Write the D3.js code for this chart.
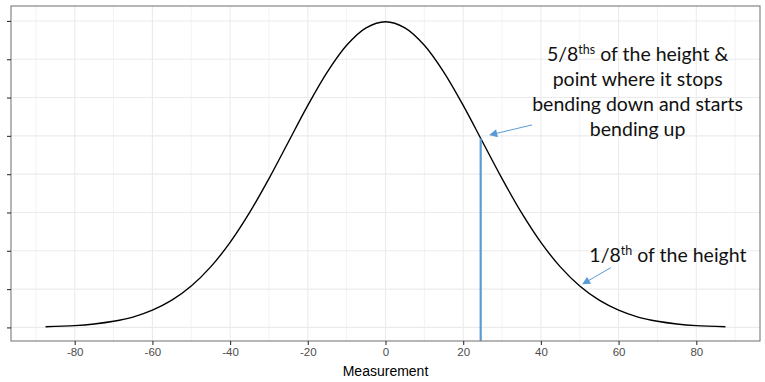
<!DOCTYPE html>
<html>
<head>
<meta charset="utf-8">
<script src="https://cdn.jsdelivr.net/npm/d3@7"></script>
<style>
  body { margin: 0; background: #fff; }
  .tick text { font-family: "Liberation Sans", Arial, sans-serif; }
  .note { font-family: Lato, "Open Sans", sans-serif; font-size: 19.5px; fill: #111; }
</style>
</head>
<body>
<svg width="765" height="382"></svg>
<script>
var xs = [-87.5, -80, -75, -70, -65, -60, -55, -50, -45, -40, -35, -30, -25, -20, -15, -10, -5,
          0, 5, 10, 15, 20, 25, 30, 35, 40, 45, 50, 55, 60, 65, 70, 75, 80, 87.5];
var ys = [0.000035, 0.000095, 0.00018, 0.00032, 0.00054, 0.00090, 0.00142, 0.00216, 0.00316, 0.00444, 0.00599, 0.00777, 0.00968, 0.01159, 0.01333, 0.01473, 0.01564,
          0.01596, 0.01564, 0.01473, 0.01333, 0.01159, 0.00968, 0.00777, 0.00599, 0.00444, 0.00316, 0.00216, 0.00142, 0.00090, 0.00054, 0.00032, 0.00018, 0.000095, 0.000035];

var xTicks = [-80, -60, -40, -20, 0, 20, 40, 60, 80];
var xMinor = [-90, -70, -50, -30, -10, 10, 30, 50, 70, 90];
var yTicks = [0, 0.002, 0.004, 0.006, 0.008, 0.010, 0.012, 0.014, 0.016];

// blue marker line
var vline = { x: 24.5, y: 0.00987 };

// annotation arrows [from, to] in data units
var arrows = [
  [[37.7, 0.01057], [26.9, 0.01005]],
  [[58.0, 0.00312], [50.8, 0.00227]]
];

var svg = d3.select("svg"),
    pLeft = 11, pRight = 760, pTop = 6, pBottom = 341;

var x = d3.scaleLinear().domain([-96.4, 96.4]).range([pLeft, pRight]);
var y = d3.scaleLinear().domain([-0.00071, 0.01678]).range([pBottom, pTop]);

// grid
var grid = svg.append("g");
grid.selectAll(".minor")
  .data(xMinor)
  .enter().append("line")
    .attr("x1", function(d) { return x(d); })
    .attr("x2", function(d) { return x(d); })
    .attr("y1", pTop).attr("y2", pBottom)
    .attr("stroke", "#f3f3f3").attr("stroke-width", 1);
grid.selectAll(".majx")
  .data(xTicks)
  .enter().append("line")
    .attr("x1", function(d) { return x(d); })
    .attr("x2", function(d) { return x(d); })
    .attr("y1", pTop).attr("y2", pBottom)
    .attr("stroke", "#ebebeb").attr("stroke-width", 1.1);
grid.selectAll(".majy")
  .data(yTicks)
  .enter().append("line")
    .attr("y1", function(d) { return y(d); })
    .attr("y2", function(d) { return y(d); })
    .attr("x1", pLeft).attr("x2", pRight)
    .attr("stroke", "#ebebeb").attr("stroke-width", 1.1);

// curve
var pts = xs.map(function(d, i) { return [d, ys[i]]; });
var line = d3.line()
    .x(function(d) { return x(d[0]); })
    .y(function(d) { return y(d[1]); })
    .curve(d3.curveCatmullRom);

svg.append("path")
    .datum(pts)
    .attr("fill", "none")
    .attr("stroke", "#000")
    .attr("stroke-width", 1.4)
    .attr("d", line);

// vertical blue line
svg.append("line")
    .attr("x1", x(vline.x)).attr("x2", x(vline.x))
    .attr("y1", y(vline.y)).attr("y2", pBottom)
    .attr("stroke", "#5b9bd5")
    .attr("stroke-width", 2.2);

// panel border
svg.append("rect")
    .attr("x", pLeft).attr("y", pTop)
    .attr("width", pRight - pLeft).attr("height", pBottom - pTop)
    .attr("fill", "none")
    .attr("stroke", "#7a7a7a")
    .attr("stroke-width", 1.1);

// axes
var xAxis = svg.append("g")
    .attr("transform", "translate(0," + pBottom + ")")
    .call(d3.axisBottom(x).tickValues(xTicks).tickSize(4).tickPadding(3)
      .tickFormat(function(d) { return String(d); }));
var yAxis = svg.append("g")
    .attr("transform", "translate(" + pLeft + ",0)")
    .call(d3.axisLeft(y).tickValues(yTicks).tickSize(4).tickFormat(""));

[xAxis, yAxis].forEach(function(a) {
  a.select(".domain").remove();
  a.selectAll(".tick line").attr("stroke", "#333").attr("stroke-width", 1.1);
});
xAxis.selectAll(".tick text")
    .attr("fill", "#4d4d4d")
    .style("font-size", "11.5px");

svg.append("text")
    .attr("x", (pLeft + pRight) / 2)
    .attr("y", 376)
    .attr("text-anchor", "middle")
    .style("font-family", "'Liberation Sans', Arial, sans-serif")
    .style("font-size", "14px")
    .attr("fill", "#000")
    .text("Measurement");

// arrows
var defs = svg.append("defs");
defs.append("marker")
    .attr("id", "head")
    .attr("viewBox", "0 0 10 10")
    .attr("refX", 9).attr("refY", 5)
    .attr("markerWidth", 10).attr("markerHeight", 8)
    .attr("markerUnits", "userSpaceOnUse")
    .attr("orient", "auto")
  .append("path")
    .attr("d", "M0,0 L10,5 L0,10 Z")
    .attr("fill", "#5b9bd5");

svg.selectAll(".arrow")
  .data(arrows)
  .enter().append("line")
    .attr("x1", function(d) { return x(d[0][0]); })
    .attr("y1", function(d) { return y(d[0][1]); })
    .attr("x2", function(d) { return x(d[1][0]); })
    .attr("y2", function(d) { return y(d[1][1]); })
    .attr("stroke", "#5b9bd5")
    .attr("stroke-width", 1)
    .attr("marker-end", "url(#head)");

// notes
var n1 = svg.append("text")
    .attr("class", "note")
    .attr("text-anchor", "middle");
var l1 = n1.append("tspan").attr("x", x(64.9)).attr("y", y(0.01391));
l1.append("tspan").text("5/8");
l1.append("tspan").attr("dy", -7).style("font-size", "12.5px").text("ths");
l1.append("tspan").attr("dy", 7).text(" of the height &");
["point where it stops", "bending down and starts", "bending up"].forEach(function(t, i) {
  n1.append("tspan")
    .attr("x", x(64.9))
    .attr("y", y(0.01391) + 25 * (i + 1))
    .text(t);
});

var n2 = svg.append("text")
    .attr("class", "note")
    .attr("text-anchor", "middle")
    .attr("x", x(72.7))
    .attr("y", y(0.00341));
n2.append("tspan").text("1/8");
n2.append("tspan").attr("dy", -7).style("font-size", "12.5px").text("th");
n2.append("tspan").attr("dy", 7).text(" of the height");
</script>
</body>
</html>
